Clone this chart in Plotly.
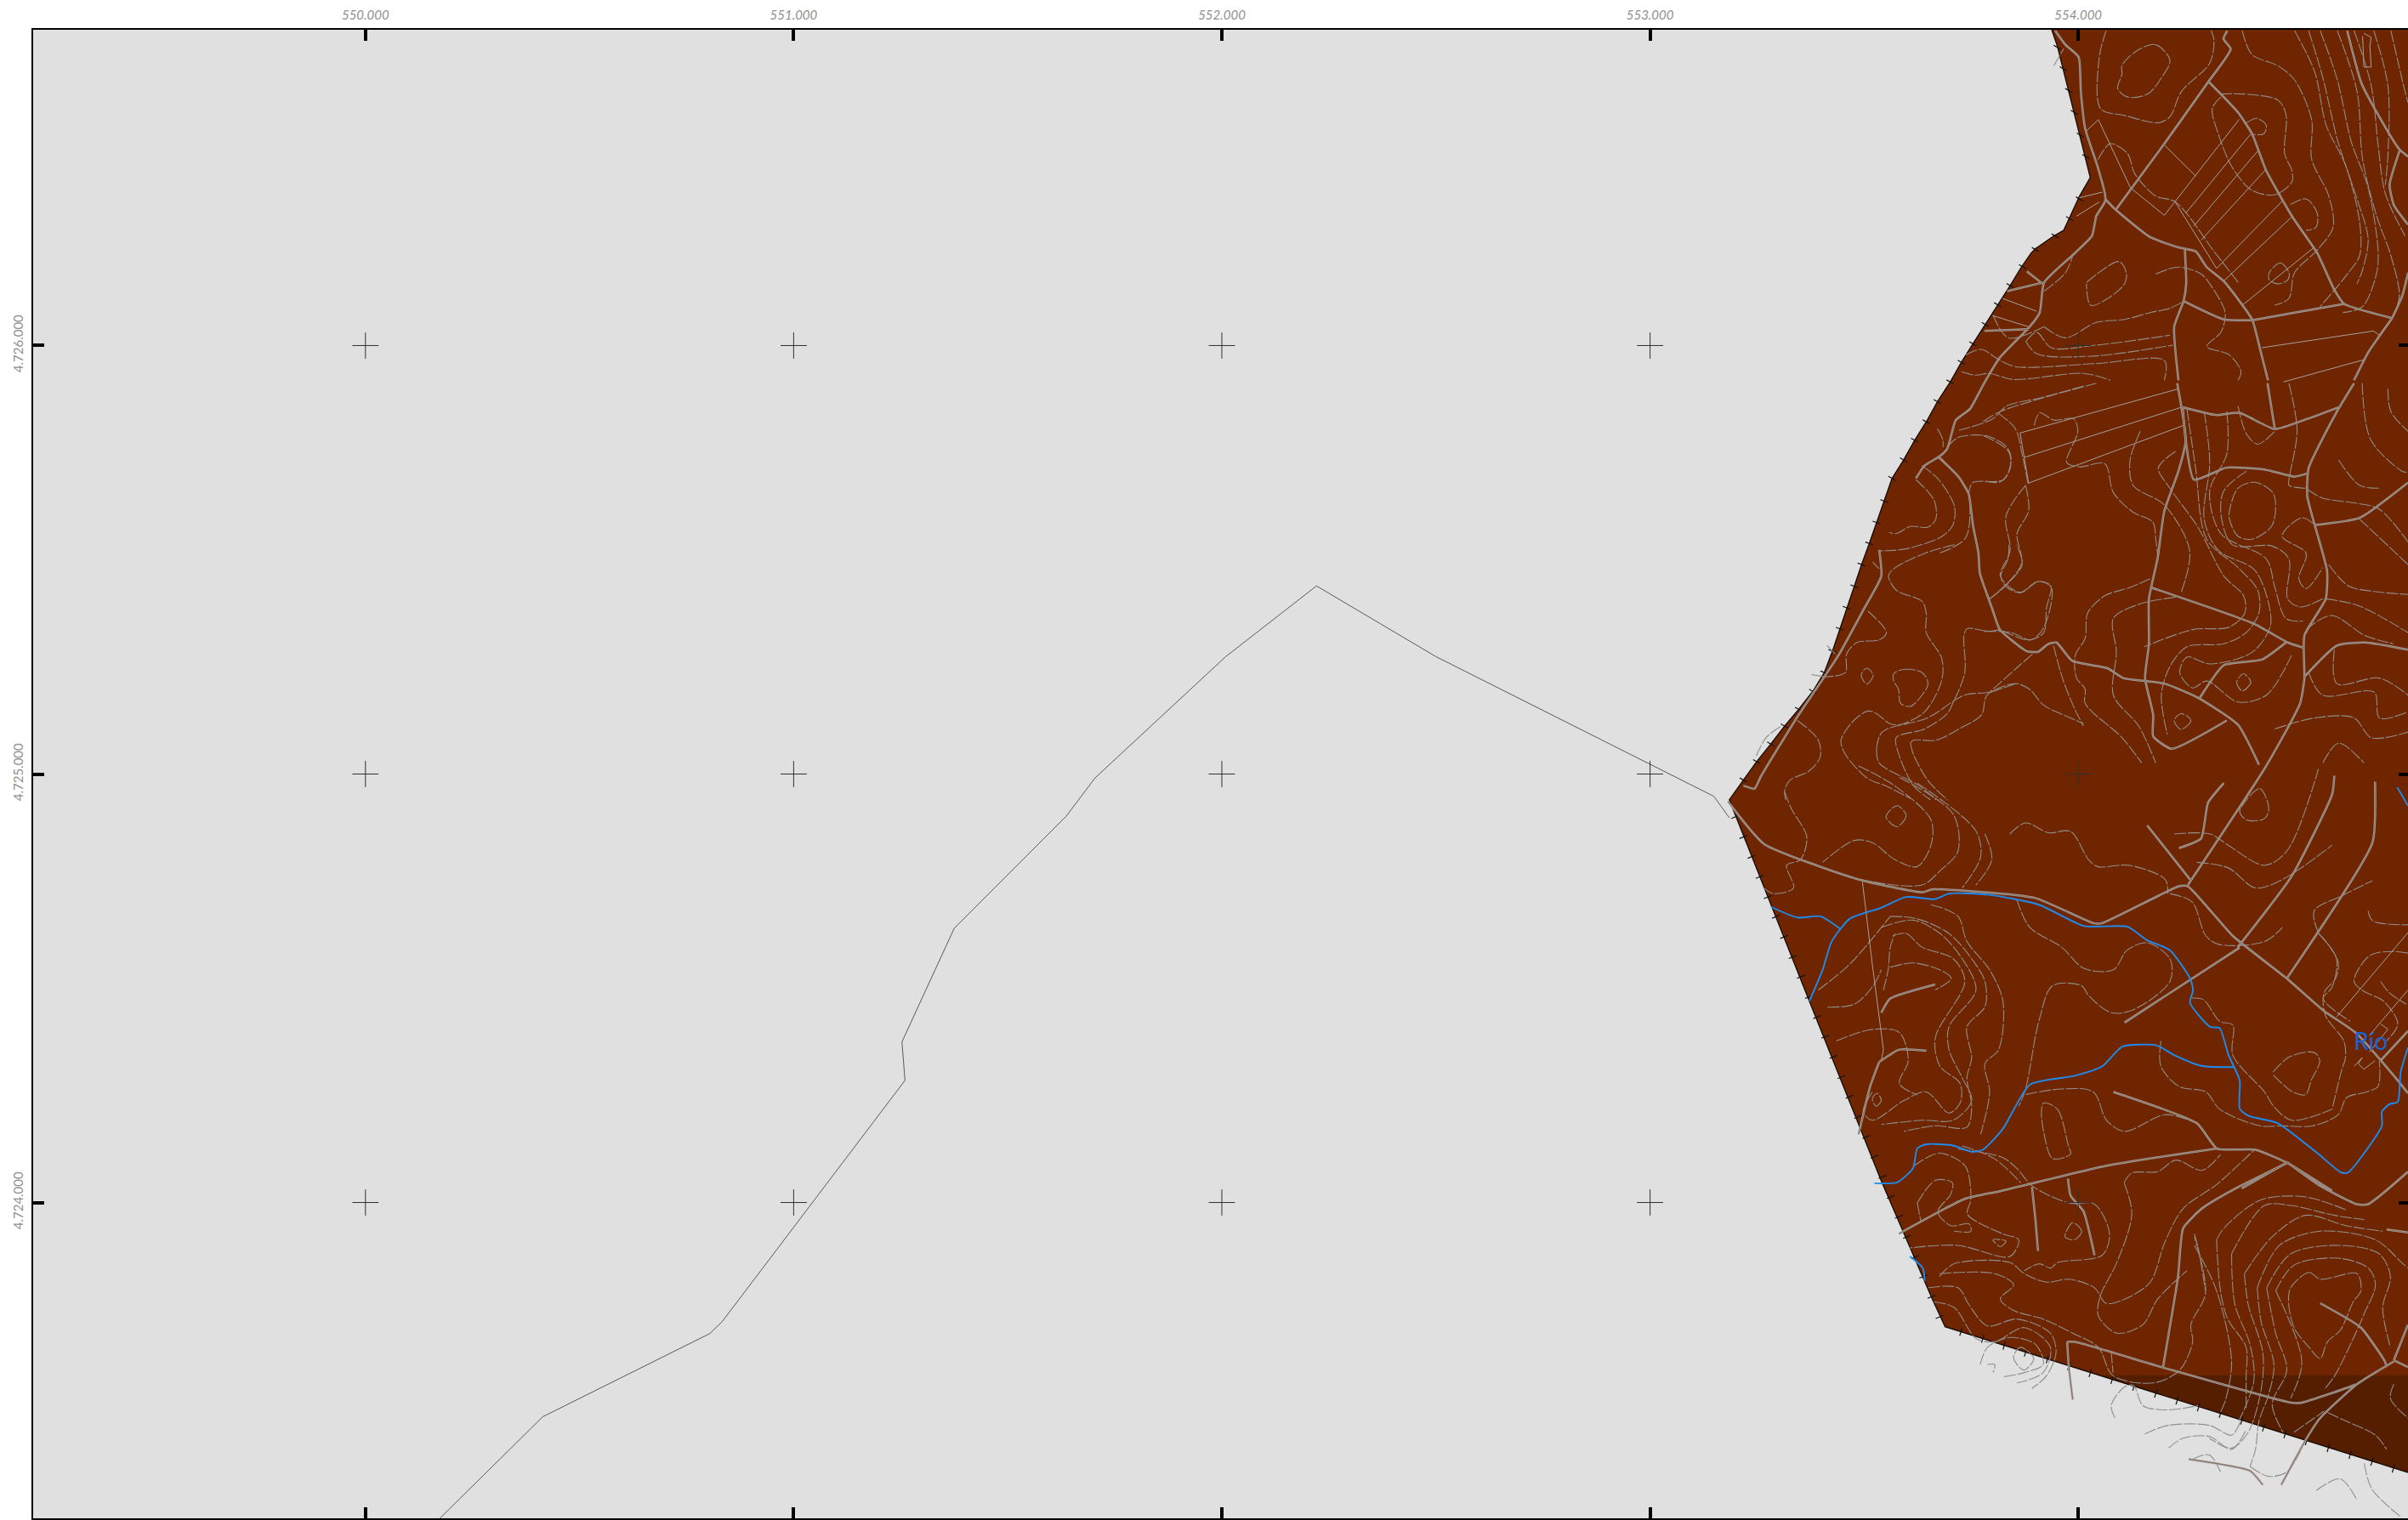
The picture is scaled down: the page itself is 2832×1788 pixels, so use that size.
import plotly.graph_objects as go

# Map grid origin; all traced features are local metres east / north of it
ORIGIN_E = 554000
ORIGIN_N = 4725000

x_ticks = [550000, 551000, 552000, 553000, 554000]
x_tick_text = ["550.000", "551.000", "552.000", "553.000", "554.000"]
y_ticks = [4724000, 4725000, 4726000]
y_tick_text = ["4.724.000", "4.725.000", "4.726.000"]

# Raster extent
extent = [(-62,1737),(-49,1699),(-24,1600),(3,1494),(28,1392),(3,1349),(-34,1269),(-57,1256),(-100,1226),(-110,1216),(-133,1183),(-159,1140),(-189,1094),(-222,1041),(-246,1004),(-273,961),(-299,915),(-329,869),(-355,822),(-382,779),(-408,733),(-435,690),(-453,637),(-471,587),(-488,538),(-506,489),(-523,438),(-541,388),(-557,339),(-574,287),(-593,237),(-620,193),(-653,151),(-686,112),(-718,70),(-751,29),(-782,-14),(-815,-60),(-628,-530),(-460,-950),(-341,-1225),(-311,-1290),(770,-1630),(800,-1640),(800,1737)]
dark_band = [(55,-1403),(800,-1403),(800,-1640),(770,-1630)]

hatch_nw = [(-49,1696),(-35,1646),(-22,1595),(-9,1544),(5,1491),(18,1441),(3,1342),(-20,1296),(-54,1256),(-100,1224),(-130,1184),(-159,1140),(-188,1095),(-217,1049),(-246,1004),(-273,961),(-299,915),(-329,869),(-355,822),(-382,779),(-408,733),(-435,690),(-620,193),(-653,151),(-686,112),(-718,70),(-751,29),(-782,-14)]
hatch_nnw = [(-453,637),(-471,587),(-488,538),(-506,489),(-523,438),(-541,388),(-557,339),(-574,287),(-593,237)]
hatch_w = [(-801,-100),(-782,-147),(-763,-193),(-744,-240),(-725,-287),(-706,-333),(-687,-380),(-667,-427),(-648,-473),(-629,-520),(-610,-567),(-591,-613),(-572,-660),(-553,-707),(-534,-753),(-514,-800),(-495,-847),(-476,-893),(-457,-940),(-438,-987),(-419,-1033),(-400,-1080),(-381,-1127),(-362,-1173),(-343,-1220),(-324,-1267)]
hatch_s = [(-274,-1302),(-223,-1318),(-173,-1334),(-123,-1350),(-72,-1366),(-22,-1382),(28,-1398),(79,-1414),(130,-1430),(181,-1446),(231,-1462),(281,-1478),(332,-1493),(382,-1509),(433,-1525),(483,-1541),(533,-1557),(584,-1573),(635,-1589),(686,-1605),(736,-1621)]

boundary_line = [(-3900,-1810),(-3829,-1740),(-3586,-1500),(-3196,-1306),(-3167,-1278),(-2740,-715),(-2747,-625),(-2625,-360),(-2364,-99),(-2296,-9),(-1991,274),(-1779,439),(-1500,274),(-851,-52),(-815,-102)]

# Roads
r01 = [(-54,1735),(-30,1702),(1,1673),(6,1593),(16,1507),(46,1415),(63,1349),(62,1335),(42,1302),(32,1256),(-11,1213),(-80,1147),(-90,1077),(-116,1041),(-183,972),(-220,912),(-253,852),(-286,826),(-306,759),(-326,740),(-359,720),(-379,690)]
r02 = [(63,1342),(85,1319),(168,1253),(234,1229),(274,1220),(300,1183),(340,1150),(406,1061),(423,998),(443,919)]
r03 = [(89,1319),(201,1471),(304,1616),(356,1692),(339,1716),(348,1735)]
r04 = [(304,1616),(373,1544),(406,1494),(439,1408),(499,1302),(558,1216),(598,1130),(621,1097),(733,1064)]
r05 = [(406,1059),(505,1077),(621,1097)]
r06 = [(628,1735),(661,1613),(703,1534),(750,1458),(770,1441)]
r07 = [(750,1454),(727,1375),(737,1328),(770,1282)]
r08 = [(733,1064),(757,1117),(770,1170)]
r09 = [(733,1064),(677,984),(644,919)]
r10 = [(249,1223),(252,1144),(246,1104),(224,1044),(234,919)]
r11 = [(246,1104),(340,1061),(406,1059)]
r12 = [(-83,1147),(-166,1127)]
r13 = [(-83,1144),(-120,1173)]
r14 = [(-219,1034),(-116,1038)]
r15 = [(244,856),(250,786),(270,687),(346,715),(439,710),(505,694),(537,702)]
r16 = [(244,856),(320,838),(376,843),(459,805),(535,829),(608,856)]
r17 = [(644,912),(604,846),(538,714),(535,647),(581,475),(578,409),(528,323),(528,223),(518,165),(439,19),(256,-259)]
r18 = [(459,805),(442,912)]
r19 = [(231,912),(251,780),(234,707),(201,614),(185,502),(165,409),(165,304),(156,224),(175,138),(175,88),(218,59),(347,125)]
r20 = [(168,436),(412,350),(489,307),(528,294)]
r21 = [(-326,740),(-279,693),(-256,654),(-246,581),(-233,515),(-230,469),(-200,383),(-183,337),(-121,287),(-94,285),(-71,303),(-51,307),(-14,264),(68,247),(105,224),(201,211),(280,178),(373,115),(422,22)]
r22 = [(284,178),(340,254),(429,267),(485,307)]
r23 = [(528,227),(604,300),(670,307),(770,290)]
r24 = [(551,581),(657,598),(770,680)]
r25 = [(-818,-64),(-734,-163),(-513,-246),(-365,-276),(-339,-269),(-102,-289),(35,-348),(56,-348),(235,-262),(256,-262),(361,-378),(487,-477),(574,-553),(647,-603),(746,-715),(770,-745)]
r26 = [(235,-173),(287,-150),(303,-67),(340,-21)]
r27 = [(161,-120),(261,-246)]
r28 = [(377,-405),(108,-580)]
r29 = [(372,-405),(498,-239),(593,-47),(598,-4)]
r30 = [(487,-477),(687,-160),(693,-18)]
r31 = [(82,-742),(277,-815),(324,-874),(414,-877),(487,-907),(593,-973)]
r32 = [(-419,-1073),(-264,-991),(-181,-973),(66,-914),(324,-874)]
r33 = [(487,-907),(382,-967)]
r34 = [(-460,-557),(-439,-524),(-334,-491)]
r35 = [(-465,-672),(-418,-643),(-355,-646)]
r36 = [(-465,-672),(-486,-729),(-513,-841)]
r37 = [(-108,-964),(-100,-1040),(-94,-1113)]
r38 = [(-24,-944),(-18,-984),(12,-1020),(38,-1123)]
r39 = [(487,-908),(366,-968),(289,-1014),(245,-1060),(233,-1173),(198,-1384)]
r40 = [(487,-905),(565,-961),(651,-1004),(677,-1004),(770,-928)]
r41 = [(565,-1235),(660,-1292),(716,-1371),(720,-1384)]
r42 = [(737,-1371),(651,-1424),(565,-1503),(530,-1556),(474,-1659)]
r43 = [(-26,-1325),(-9,-1325),(194,-1384),(496,-1467),(522,-1467),(642,-1427),(647,-1424)]
r44 = [(-26,-1325),(-22,-1384),(-13,-1460)]
r45 = [(720,-1063),(770,-1070)]
r46 = [(737,-1368),(770,-1384)]
r47 = [(737,-1368),(770,-1285)]
r48 = [(258,-1599),(401,-1626),(431,-1659)]
r49 = [(-465,523),(-460,462),(-498,390),(-560,277),(-593,227),(-653,138),(-742,-7),(-756,-34),(-782,-27)]
r50 = [(706,-669),(770,-600)]
roads = [r01,r02,r03,r04,r05,r06,r07,r08,r09,r10,r11,r12,r13,r14,r15,r16,r17,r18,r19,r20,r21,r22,r23,r24,r25,r26,r27,r28,r29,r30,r31,r32,r33,r34,r35,r36,r37,r38,r39,r40,r41,r42,r43,r44,r45,r46,r47,r48,r49,r50]

# Thin parcel lines
p01 = [(19,1501),(47,1527),(122,1368),(201,1304),(376,1528)]
p02 = [(251,1309),(403,1494)]
p03 = [(270,1279),(419,1454)]
p04 = [(287,1246),(438,1411)]
p05 = [(323,1180),(478,1339)]
p06 = [(340,1151),(497,1299)]
p07 = [(383,1094),(552,1230)]
p08 = [(201,1468),(275,1395)]
p09 = [(227,1334),(323,1180)]
p10 = [(429,995),(690,1034),(703,1024)]
p11 = [(479,915),(671,968)]
p12 = [(-177,1110),(-97,1080)]
p13 = [(-200,1070),(-117,1044)]
p14 = [(-116,679),(-136,796),(234,899)]
p15 = [(-126,739),(241,856)]
p16 = [(-116,679),(244,813)]
p17 = [(664,1722),(667,1650),(684,1650),(681,1699),(684,1719),(667,1729)]
p18 = [(-504,-252),(-481,-444),(-455,-643),(-460,-669)]
p19 = [(604,-566),(770,-370)]
p20 = [(3,1345),(56,1358)]
p21 = [(-4,1302),(49,1335)]
p22 = [(680,-610),(770,-504)]
p23 = [(644,-682),(663,-662),(654,-676),(667,-689),(693,-669)]
p24 = [(706,-583),(723,-596),(680,-649)]
parcels = [p01,p02,p03,p04,p05,p06,p07,p08,p09,p10,p11,p12,p13,p14,p15,p16,p17,p18,p19,p20,p21,p22,p23,p24]

# Streams
s1 = [(-718,-310),(-655,-335),(-602,-332),(-555,-362)]
s2 = [(-628,-530),(-597,-457),(-576,-391),(-534,-338),(-460,-312),(-402,-287),(-334,-292),(-302,-279),(-207,-282),(-92,-305),(14,-355),(114,-356),(161,-388),(214,-411),(261,-477),(268,-504),(261,-534),(308,-590),(330,-593),(351,-656),(377,-715),(377,-781),(398,-798),(466,-815),(561,-887),(614,-930),(630,-930),(709,-821),(709,-788),(726,-771),(746,-765),(753,-695),(770,-639)]
s3 = [(-476,-955),(-423,-953),(-386,-920),(-376,-874),(-355,-864),(-292,-867),(-249,-882),(-223,-877),(-176,-828),(-113,-725),(-7,-704),(56,-682),(103,-636),(182,-633),(224,-656),(287,-681),(366,-684)]
s4 = [(745,-31),(770,-74)]
s6 = [(-393,-1126),(-363,-1153),(-359,-1183)]
streams = [s1,s2,s3,s4,s6]

# Contours
c001 = [(-222,823),(-182,846),(-103,872),(42,912)]
c002 = [(-103,813),(-90,843),(-57,826),(-11,829),(-1,800),(-27,727),(3,717),(62,724),(82,657),(128,611),(174,588),(181,548),(185,515)]
c003 = [(-222,790),(-163,753),(-159,713),(-182,682),(-222,684)]
c004 = [(-123,674),(-116,614),(-143,561),(-133,489),(-206,409)]
c005 = [(-123,674),(-169,601),(-159,522),(-182,462),(-136,424),(-96,449),(-63,436),(-80,343),(-110,313),(-156,330),(-222,333)]
c006 = [(168,456),(122,436),(62,416),(22,376),(16,317),(-7,277),(-4,224),(16,198),(16,165),(102,85),(148,26)]
c007 = [(227,413),(141,396),(82,363),(89,284),(82,184),(141,112),(181,26)]
c008 = [(145,800),(121,733),(128,674),(201,628),(260,522),(240,423)]
c009 = [(227,753),(187,714),(214,667),(280,575),(340,462),(386,416),(389,376),(353,343),(267,337),(154,297)]
c010 = [(254,852),(274,714),(300,548),(373,482),(419,429),(422,376),(392,330),(340,304),(254,297),(214,251),(194,184),(208,92)]
c011 = [(294,846),(307,727),(294,595),(327,522),(412,476),(445,396),(448,343),(406,284),(307,257),(254,273),(237,237),(267,201),(300,217),(373,168),(439,184),(498,277)]
c012 = [(347,846),(347,747),(307,661),(333,561),(439,502),(459,436),(485,363),(525,357)]
c013 = [(393,707),(340,661),(333,608),(360,535),(453,532),(492,502),(489,409),(518,390),(571,409)]
c014 = [(353,614),(373,667),(412,681),(456,654),(453,581),(406,548),(373,555),(353,595),(353,614)]
c015 = [(548,585),(522,598),(476,555),(532,515),(515,456),(532,433),(571,482)]
c016 = [(608,733),(657,674),(703,667)]
c017 = [(535,664),(571,644),(657,631),(703,618),(770,542)]
c018 = [(657,595),(770,489)]
c019 = [(585,489),(631,439),(691,426),(770,419)]
c020 = [(578,409),(654,393),(770,330)]
c021 = [(532,337),(591,370),(670,323),(736,304)]
c022 = [(598,290),(604,211),(703,224),(770,184)]
c023 = [(538,237),(571,184),(691,191),(703,131),(770,145)]
c024 = [(459,105),(552,131),(644,131),(684,85),(770,98)]
c025 = [(571,26),(608,72),(667,26)]
c026 = [(663,912),(683,780),(756,707),(770,704)]
c027 = [(723,899),(730,846),(770,800)]
c028 = [(492,912),(511,800),(492,687),(492,674),(532,667)]
c029 = [(373,859),(393,793),(419,770),(459,800)]
c030 = [(386,234),(403,214),(383,194),(370,214),(386,234)]
c031 = [(240,141),(263,125),(240,104),(224,125),(240,141)]
c032 = [(138,1689),(181,1702),(214,1666),(195,1626),(162,1587),(115,1580),(92,1600),(102,1633),(102,1653),(138,1689)]
c033 = [(65,1735),(49,1672),(52,1553),(108,1537),(188,1520),(214,1534),(241,1593),(307,1659),(317,1712),(310,1735)]
c034 = [(383,1735),(406,1679),(466,1653),(505,1620),(545,1527),(545,1435),(585,1349),(595,1276),(558,1223),(505,1170),(492,1110),(459,1094)]
c035 = [(333,1580),(313,1553),(327,1494),(360,1415),(406,1362),(459,1352),(499,1382),(499,1408),(482,1448),(485,1540),(466,1573),(386,1587),(333,1587)]
c036 = [(393,1520),(417,1530),(439,1514),(433,1494),(406,1493)]
c037 = [(495,1329),(532,1342),(558,1309),(555,1276),(532,1269)]
c038 = [(446,1170),(472,1193),(492,1170),(489,1153),(466,1144),(446,1153),(446,1170)]
c039 = [(19,1147),(95,1196),(112,1170),(108,1144),(69,1110),(29,1094),(19,1144)]
c040 = [(181,1167),(234,1183),(287,1167),(307,1144),(343,1077),(333,1031),(300,998),(353,978),(380,939),(373,919)]
c041 = [(-80,1044),(-30,1018),(42,1054),(108,1061),(168,1077),(214,1087),(247,1104)]
c042 = [(-121,1011),(-97,1031),(-63,995),(42,1001),(214,1024)]
c043 = [(-123,1011),(-97,981),(29,975),(221,1001)]
c044 = [(-263,978),(-226,991),(-187,968),(-147,951),(42,958),(201,965),(201,919)]
c045 = [(-273,939),(-240,931),(-207,935),(-154,921),(12,935),(75,919)]
c046 = [(505,1735),(552,1639),(579,1514),(624,1421),(657,1289),(657,1210),(631,1170),(565,1091)]
c047 = [(565,1735),(605,1620),(638,1474),(677,1368),(700,1223),(697,1170),(664,1091),(618,1077)]
c048 = [(605,1735),(651,1593),(664,1435),(697,1302),(730,1210),(750,1117),(737,1071)]
c049 = [(538,1735),(571,1626),(605,1481),(651,1342),(677,1249),(664,1177),(651,1144)]
c050 = [(644,1735),(684,1607),(701,1461),(717,1355),(763,1256)]
c051 = [(690,1735),(723,1607),(723,1441),(717,1375)]
c052 = [(730,1735),(763,1593),(770,1567)]
c053 = [(46,1434),(75,1471),(115,1448),(132,1401),(181,1349),(227,1335),(320,1216),(376,1144)]
c054 = [(-199,1071),(-163,1018),(-80,1044)]
c055 = [(-80,1127),(-30,1170),(-11,1216)]
c056 = [(-57,1653),(-34,1693)]
c057 = [(-686,-41),(-670,-81),(-634,-147),(-649,-200),(-681,-213),(-665,-266),(-713,-279),(-739,-262)]
c058 = [(-423,-74),(-402,-97),(-423,-123),(-449,-100),(-423,-74)]
c059 = [(-513,19),(-428,-28),(-344,-107),(-344,-166),(-376,-216),(-428,-200),(-481,-160),(-523,-155),(-597,-206)]
c060 = [(-418,-8),(-292,-94),(-281,-180),(-323,-226),(-365,-259),(-513,-246)]
c061 = [(-376,-21),(-239,-133),(-228,-193),(-271,-266)]
c062 = [(-218,-140),(-202,-200),(-239,-259)]
c063 = [(-160,-140),(-123,-114),(-70,-137),(-18,-134),(24,-200),(45,-216),(119,-213),(203,-246),(209,-279)]
c064 = [(-144,-292),(-113,-358),(-39,-404),(14,-454),(82,-457),(114,-411),(161,-394),(214,-431),(214,-484),(129,-550),(77,-557),(24,-517),(8,-494),(-60,-494),(-92,-577),(-123,-735),(-139,-775)]
c065 = [(-344,-305),(-281,-332),(-260,-391),(-207,-457),(-176,-530),(-186,-643),(-218,-676),(-207,-742),(-228,-841)]
c066 = [(-439,-332),(-376,-338),(-302,-372),(-249,-431),(-218,-484),(-218,-543),(-260,-590),(-249,-662),(-260,-709),(-249,-775),(-260,-824),(-334,-821),(-407,-834)]
c067 = [(-460,-358),(-386,-341),(-323,-372),(-271,-431),(-239,-504),(-302,-590),(-302,-643),(-271,-709),(-249,-762),(-292,-808),(-365,-808),(-460,-818)]
c068 = [(-434,-378),(-402,-372),(-365,-404),(-292,-431),(-265,-484),(-334,-616),(-323,-682),(-276,-722),(-276,-768),(-302,-791),(-355,-742),(-407,-762),(-481,-808),(-502,-788),(-481,-742)]
c069 = [(-439,-451),(-386,-441),(-323,-457),(-297,-477),(-334,-504)]
c070 = [(-455,-504),(-444,-457),(-439,-404),(-428,-372)]
c071 = [(-565,-623),(-481,-596),(-418,-603),(-397,-669),(-418,-722),(-376,-749)]
c072 = [(-586,-544),(-523,-537),(-481,-497),(-460,-457)]
c073 = [(-607,-504),(-534,-444),(-439,-332)]
c074 = [(-470,-745),(-460,-762),(-472,-775),(-481,-758),(-470,-745)]
c075 = [(266,-523),(293,-527),(330,-577),(361,-586),(361,-656),(435,-742),(456,-775),(498,-808),(593,-782)]
c076 = [(193,-623),(193,-682),(235,-729),(298,-742),(330,-782),(424,-821),(475,-821),(548,-821),(607,-795),(627,-755),(673,-742),(700,-729),(703,-669)]
c077 = [(455,-695),(495,-659),(551,-650),(564,-669),(544,-715),(531,-748),(501,-742),(455,-702)]
c078 = [(-81,-768),(-49,-782),(-23,-868),(-18,-887),(-60,-897),(-81,-834),(-86,-788),(-81,-768)]
c079 = [(-123,-748),(-39,-735),(35,-742),(66,-808),(108,-834),(203,-795),(277,-815)]
c080 = [(-271,-868),(-197,-897),(-134,-954)]
c081 = [(561,-372),(603,-431),(593,-497),(572,-524),(635,-577)]
c082 = [(561,-372),(551,-319),(614,-285),(687,-249)]
c083 = [(677,-319),(687,-342),(770,-352)]
c084 = [(377,-87),(424,-34),(445,-81),(435,-104),(393,-107),(377,-87)]
c085 = [(224,-140),(308,-140),(350,-166),(435,-213),(487,-180),(561,12)]
c086 = [(277,-206),(350,-219),(414,-266),(477,-246),(593,-166)]
c087 = [(214,-279),(266,-299),(298,-378),(330,-398),(435,-391),(477,-358)]
c088 = [(770,-418),(733,-414),(680,-424),(644,-484),(667,-507),(713,-530),(746,-583),(720,-623)]
c089 = [(706,-484),(726,-510),(766,-537)]
c090 = [(-376,-1001),(-333,-948),(-294,-954),(-298,-981),(-328,-1021),(-298,-1054),(-255,-1050),(-251,-1067),(-290,-1067)]
c091 = [(-376,-1001),(-367,-1047)]
c092 = [(-385,-915),(-324,-885),(-264,-915),(-251,-994),(-259,-1027),(-177,-1073),(-139,-1087),(-160,-1126),(-281,-1100),(-393,-1106)]
c093 = [(-281,-875),(-177,-895),(-143,-921),(-108,-961),(-22,-1001),(38,-1004),(73,-1073),(56,-1123),(-48,-1140),(-65,-1153),(-91,-1143),(-126,-1159)]
c094 = [(-324,-1173),(-290,-1143),(-160,-1140),(-126,-1166),(-74,-1186),(-22,-1179),(38,-1199),(64,-1235),(107,-1226),(168,-1186),(202,-1093),(245,-1014),(323,-958),(410,-878)]
c095 = [(107,-954),(125,-931),(185,-928),(228,-901),(289,-925),(332,-888)]
c096 = [(107,-954),(125,-1027),(90,-1140),(51,-1219),(47,-1265),(90,-1305),(151,-1285),(185,-1226),(254,-1159)]
c097 = [(-324,-1166),(-195,-1166),(-151,-1192),(-182,-1225),(-151,-1252),(-82,-1272),(-13,-1305),(47,-1338),(81,-1404),(176,-1421),(237,-1391),(267,-1325),(263,-1285),(297,-1212),(271,-1080)]
c098 = [(-350,-1199),(-281,-1199),(-255,-1239),(-212,-1288),(-143,-1272),(-65,-1305),(-52,-1351),(-74,-1404),(-108,-1434)]
c099 = [(-337,-1232),(-290,-1245),(-238,-1318),(-195,-1325),(-126,-1292),(-65,-1338),(-82,-1397),(-143,-1421)]
c100 = [(-229,-1378),(-212,-1338),(-160,-1315),(-100,-1331),(-82,-1378),(-126,-1397),(-177,-1407)]
c101 = [(-151,-1358),(-134,-1338),(-104,-1364),(-126,-1391),(-143,-1378),(-151,-1358)]
c102 = [(-212,-1378),(-195,-1378),(-199,-1397)]
c103 = [(-199,-1087),(-169,-1090),(-182,-1103),(-199,-1087)]
c104 = [(-13,-1047),(8,-1067),(-9,-1087),(-31,-1080),(-13,-1047)]
c105 = [(77,-1348),(81,-1397)]
c106 = [(496,-1199),(539,-1163),(565,-1179),(651,-1166),(660,-1206),(642,-1232),(612,-1298),(582,-1325),(565,-1364),(539,-1338),(504,-1292),(491,-1232),(496,-1199)]
c107 = [(461,-1206),(504,-1146),(608,-1130),(677,-1153),(694,-1192),(668,-1259),(651,-1298),(599,-1404),(574,-1437)]
c108 = [(440,-1199),(496,-1120),(608,-1100),(703,-1120),(729,-1173),(711,-1245),(729,-1338)]
c109 = [(418,-1199),(470,-1100),(565,-1067),(694,-1087),(755,-1140),(770,-1153)]
c110 = [(388,-1166),(453,-1080),(530,-1030),(625,-1054),(711,-1067)]
c111 = [(358,-1120),(435,-1007),(496,-1007),(599,-1030),(668,-1040)]
c112 = [(323,-1087),(340,-1060),(426,-994),(530,-987),(625,-1017)]
c113 = [(271,-1073),(280,-1106),(297,-1206)]
c114 = [(323,-1087),(332,-1206),(349,-1272),(392,-1338),(392,-1404),(392,-1483)]
c115 = [(358,-1120),(366,-1239),(401,-1331),(410,-1417),(375,-1510)]
c116 = [(388,-1166),(397,-1239),(431,-1351),(427,-1437),(397,-1536),(358,-1573),(306,-1550)]
c117 = [(418,-1199),(427,-1278),(457,-1378),(444,-1450),(422,-1510),(414,-1576),(401,-1616)]
c118 = [(440,-1199),(461,-1305),(487,-1391),(453,-1470),(478,-1536)]
c119 = [(461,-1206),(522,-1371),(496,-1457)]
c120 = [(271,-1100),(323,-1206),(358,-1371),(345,-1457),(332,-1490)]
c121 = [(86,-1503),(77,-1474),(107,-1431),(129,-1427),(151,-1474),(207,-1484),(280,-1474)]
c122 = [(155,-1540),(211,-1520),(306,-1520),(358,-1543),(379,-1510)]
c123 = [(211,-1573),(245,-1550),(306,-1546),(358,-1576),(392,-1530)]
c124 = [(401,-1616),(444,-1639),(487,-1629),(530,-1556)]
c125 = [(556,-1672),(612,-1645),(651,-1695)]
c126 = [(267,-1599),(306,-1589),(332,-1629)]
c127 = [(668,-1609),(686,-1669),(755,-1735)]
c128 = [(582,-1490),(625,-1510),(694,-1543),(720,-1576)]
c129 = [(504,-1536),(574,-1487)]
c130 = [(737,-1424),(729,-1457),(770,-1503)]
c131 = [(-279,802),(-200,829),(-167,859),(-88,878),(12,905)]
c132 = [(-187,842),(-147,806),(-131,746),(-117,677)]
c133 = [(-306,763),(-279,786),(-213,789),(-167,763),(-157,733),(-174,687),(-246,680),(-256,654)]
c134 = [(-329,806),(-316,779),(-316,763)]
c135 = [(-379,687),(-336,637),(-333,594),(-352,576),(-392,578),(-425,561),(-441,564)]
c136 = [(-365,720),(-326,687),(-289,624),(-293,581),(-319,554),(-405,525),(-465,521)]
c137 = [(-253,634),(-263,551),(-326,515)]
c138 = [(-289,535),(-359,515),(-431,479),(-443,462),(-425,429),(-365,403),(-355,376),(-355,330),(-319,270),(-319,218),(-359,145),(-418,115),(-441,118),(-471,141),(-491,147),(-524,125),(-554,79),(-544,46),(-491,-11),(-451,-27),(-392,-57)]
c139 = [(-183,337),(-207,333),(-260,339),(-267,323),(-265,237),(-293,165),(-306,141),(-359,105),(-425,85),(-421,52),(-385,-27),(-345,-60)]
c140 = [(-207,409),(-167,442),(-131,489),(-144,535)]
c141 = [(-162,535),(-164,502),(-181,462),(-167,436),(-134,423),(-94,449),(-64,439),(-74,389),(-81,330),(-114,313),(-183,337)]
c142 = [(-471,59),(-458,98),(-352,131),(-266,184),(-207,191),(-147,211)]
c143 = [(-107,280),(-140,251),(-207,191)]
c144 = [(-471,59),(-465,26),(-372,-27),(-332,-60)]
c145 = [(-392,72),(-385,79),(-332,79),(-279,105),(-226,138),(-213,184),(-147,211),(-114,198),(-81,161),(-21,132),(12,118)]
c146 = [(-392,72),(-385,46),(-352,-14),(-306,-60)]
c147 = [(-494,247),(-479,231),(-494,210),(-507,231),(-494,247)]
c148 = [(-431,234),(-408,244),(-365,237),(-351,211),(-365,184),(-392,158),(-415,165),(-420,198),(-431,217),(-431,234)]
c149 = [(-491,380),(-448,330),(-465,313),(-517,307),(-541,280),(-544,237),(-593,227)]
c150 = [(-656,125),(-607,79),(-603,39),(-630,6),(-673,-14),(-686,-40),(-683,-60)]
c151 = [(-58,300),(-35,218),(-8,151),(12,112)]
c152 = [(-752,42),(-729,85),(-689,115)]
c153 = [(-587,300),(-564,277)]
c154 = [(-623,232),(-593,227)]
c155 = [(-480,495),(-465,479)]
c156 = [(568,-378),(607,-438),(601,-477),(574,-510),(577,-563),(620,-623),(624,-662),(614,-695),(593,-782)]
contours = [c001,c002,c003,c004,c005,c006,c007,c008,c009,c010,c011,c012,c013,c014,c015,c016,c017,c018,c019,c020,c021,c022,c023,c024,c025,c026,c027,c028,c029,c030,c031,c032,c033,c034,c035,c036,c037,c038,c039,c040,c041,c042,c043,c044,c045,c046,c047,c048,c049,c050,c051,c052,c053,c054,c055,c056,c057,c058,c059,c060,c061,c062,c063,c064,c065,c066,c067,c068,c069,c070,c071,c072,c073,c074,c075,c076,c077,c078,c079,c080,c081,c082,c083,c084,c085,c086,c087,c088,c089,c090,c091,c092,c093,c094,c095,c096,c097,c098,c099,c100,c101,c102,c103,c104,c105,c106,c107,c108,c109,c110,c111,c112,c113,c114,c115,c116,c117,c118,c119,c120,c121,c122,c123,c124,c125,c126,c127,c128,c129,c130,c131,c132,c133,c134,c135,c136,c137,c138,c139,c140,c141,c142,c143,c144,c145,c146,c147,c148,c149,c150,c151,c152,c153,c154,c155,c156]

place_name = "Río"
place_pos = (683, -630)


def xs(lines):
    out = []
    for ln in lines:
        out += [ORIGIN_E + p[0] for p in ln] + [None]
    return out


def ys(lines):
    out = []
    for ln in lines:
        out += [ORIGIN_N + p[1] for p in ln] + [None]
    return out


def add_lines(fig, lines, color, width, dash="solid", smooth=0):
    style = dict(color=color, width=width, dash=dash)
    if smooth:
        style.update(shape="spline", smoothing=smooth)
    fig.add_trace(go.Scatter(x=xs(lines), y=ys(lines), mode="lines", hoverinfo="skip", line=style))


def add_area(fig, pts, color):
    fig.add_trace(go.Scatter(x=xs([pts]), y=ys([pts]), mode="lines", fill="toself", hoverinfo="skip",
                             fillcolor=color, line=dict(width=0)))


def add_hatch(fig, pts, angle):
    fig.add_trace(go.Scatter(x=xs([pts])[:-1], y=ys([pts])[:-1], mode="markers", hoverinfo="skip",
                             marker=dict(symbol="line-ns", size=7, angle=angle, line=dict(color="#111111", width=1.2))))


fig = go.Figure()
add_area(fig, extent, "#6f2600")
add_area(fig, dark_band, "#561e00")
add_lines(fig, [extent[:-2]], "#140800", 1.3)
add_hatch(fig, hatch_nw, -60)
add_hatch(fig, hatch_nnw, -70)
add_hatch(fig, hatch_w, 68)
add_hatch(fig, hatch_s, 17)
add_lines(fig, [boundary_line], "#5a5a5a", 1)
add_lines(fig, contours, "#918d8b", 1.1, "14px,2px", 0.9)
add_lines(fig, parcels, "#a5a19f", 1)
add_lines(fig, roads, "#a5a19f", 2.5, smooth=0.5)
add_lines(fig, roads, "#7d5a48", 0.7, smooth=0.5)
add_lines(fig, streams, "#1c8cf0", 1.9, smooth=0.6)

cross_x = [x for x in x_ticks for _ in y_ticks]
cross_y = [y for _ in x_ticks for y in y_ticks]
fig.add_trace(go.Scatter(x=cross_x, y=cross_y, mode="markers", hoverinfo="skip",
                         marker=dict(symbol="cross-thin", size=22, line=dict(color="#303030", width=1))))
fig.add_trace(go.Scatter(x=[ORIGIN_E + place_pos[0]], y=[ORIGIN_N + place_pos[1]], mode="text", text=[place_name],
                         textposition="middle center", hoverinfo="skip",
                         textfont=dict(family="Lato", size=28, color="#1a62d6")))

axis_common = dict(showgrid=False, zeroline=False, showline=True, linecolor="#000000", linewidth=2,
                   ticks="inside", ticklen=13, tickwidth=3.5, tickcolor="#000000", mirror="ticks")
fig.update_layout(
    width=2836, height=1788, showlegend=False,
    margin=dict(l=39, r=0, t=35, b=2),
    paper_bgcolor="#ffffff", plot_bgcolor="#e0e0e0",
    xaxis=dict(range=[549224, 554774], side="top", tickmode="array", tickvals=x_ticks, ticktext=x_tick_text,
               tickfont=dict(family="Lato", size=15, color="#8f8f8f", style="italic"), ticklabelstandoff=4, **axis_common),
    yaxis=dict(range=[4723263, 4726737], tickmode="array", tickvals=y_ticks, ticktext=y_tick_text, tickangle=-90,
               tickfont=dict(family="Lato", size=15, color="#8f8f8f"), ticklabelstandoff=4, **axis_common),
)
fig.write_html("out.html", config={"displayModeBar": False},
               post_script="document.body.style.margin='0';document.body.style.overflow='hidden';")
